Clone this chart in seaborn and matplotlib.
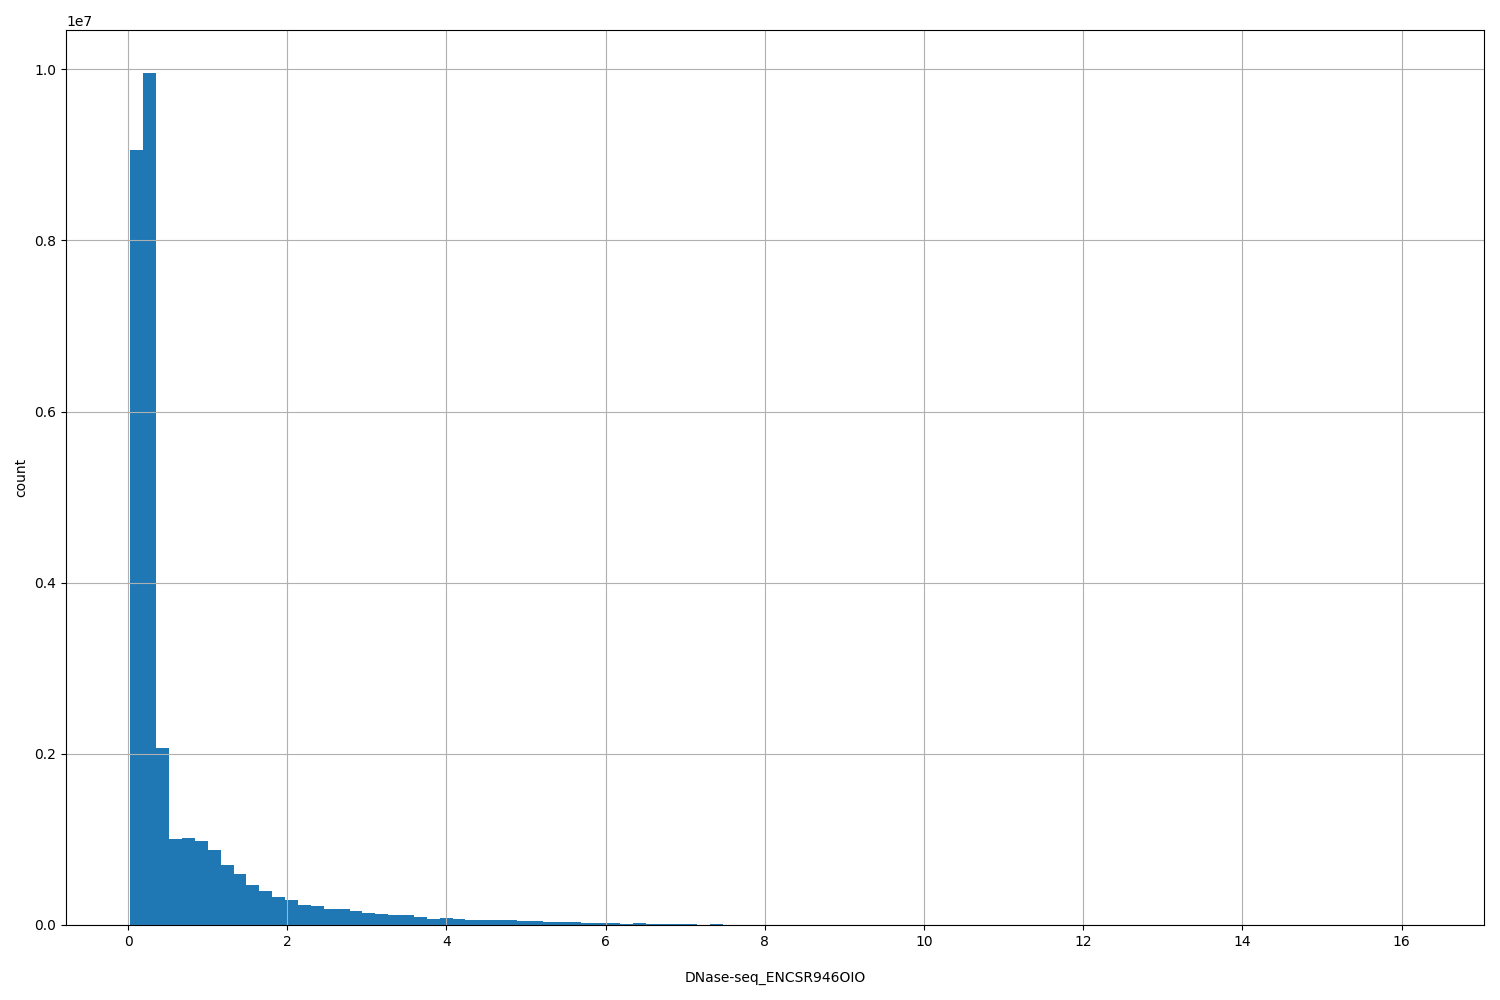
import matplotlib
matplotlib.use("Agg")
import matplotlib.pyplot as plt
import numpy as np
import pandas as pd
import seaborn as sns

# histogram of DNase-seq signal: 100 bins between min and max value
BIN_MIN = 0.03
BIN_MAX = 16.22
N_BINS = 100

# counts per bin
head_counts = [
    9.05e6, 9.96e6, 2.07e6, 1.006e6, 1.02e6, 0.98e6, 0.88e6, 0.70e6, 0.60e6, 0.47e6,
    0.40e6, 0.33e6, 0.29e6, 0.23e6, 0.22e6, 0.19e6, 0.19e6, 0.16e6, 0.14e6, 0.13e6,
    0.12e6, 0.12e6, 0.095e6, 0.07e6, 0.08e6, 0.07e6, 0.058e6, 0.058e6, 0.058e6, 0.058e6,
    0.047e6, 0.047e6, 0.035e6, 0.035e6, 0.035e6, 0.023e6, 0.023e6, 0.023e6, 0.012e6, 0.023e6,
    0.012e6, 0.012e6, 0.012e6, 0.012e6, 0.003e6, 0.012e6,
]
tail_counts = [
    4000, 3000, 2500, 2000, 1500, 1200, 1000, 800, 700, 600,
    500, 420, 350, 300, 250, 210, 180, 150, 130, 110,
    95, 80, 70, 60, 50, 44, 38, 32, 28, 24,
    20, 17, 15, 13, 11, 9, 8, 7, 6, 5,
    4, 4, 3, 3, 2, 2, 2, 1, 1, 1,
    1, 1, 1, 1,
]
counts = head_counts + tail_counts

edges = np.linspace(BIN_MIN, BIN_MAX, N_BINS + 1)
centers = (edges[:-1] + edges[1:]) / 2
df = pd.DataFrame({"signal": centers, "n": counts})

fig, ax = plt.subplots(figsize=(15, 10), dpi=100)
sns.histplot(data=df, x="signal", weights="n", bins=list(edges), ax=ax,
             color="#1f77b4", alpha=1, edgecolor="none", linewidth=0)
ax.grid(True)
ax.set_xlabel("DNase-seq_ENCSR946OIO", labelpad=16)
ax.set_ylabel("count")
fig.subplots_adjust(left=0.044, right=0.989, top=0.97, bottom=0.075)
fig.savefig("out.png")
